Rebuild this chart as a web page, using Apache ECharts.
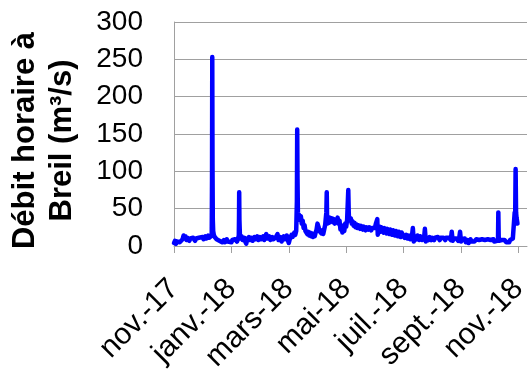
<!DOCTYPE html>
<html>
<head>
<meta charset="utf-8">
<script src="https://cdn.jsdelivr.net/npm/echarts@6/dist/echarts.min.js"></script>
<style>
html,body{margin:0;padding:0;background:#fff;}
#chart{width:528px;height:370px;}
</style>
</head>
<body>
<div id="chart"></div>
<script>
// Tick labels (every 2 months, starting nov.-17)
const tickLabels = ['nov.-17','janv.-18','mars-18','mai-18','juil.-18','sept.-18','nov.-18'];
const yTitle = 'Débit horaire à\nBreil (m³/s)';

// Hourly discharge at Breil (m3/s)
const dates = [
'2017-11-01','2017-11-02','2017-11-03','2017-11-04','2017-11-05','2017-11-06','2017-11-07','2017-11-08','2017-11-09','2017-11-10',
'2017-11-11','2017-11-12','2017-11-13','2017-11-14','2017-11-15','2017-11-17','2017-11-18','2017-11-20','2017-11-21','2017-11-23',
'2017-11-24','2017-11-26','2017-11-27','2017-11-29',
'2017-12-01','2017-12-02','2017-12-04','2017-12-05','2017-12-07','2017-12-08','2017-12-09','2017-12-10','2017-12-10 18','2017-12-11 02',
'2017-12-11 08','2017-12-11 14','2017-12-11 22','2017-12-12 08','2017-12-13','2017-12-14','2017-12-15','2017-12-16','2017-12-18','2017-12-19',
'2017-12-21','2017-12-22','2017-12-24','2017-12-25','2017-12-27','2017-12-28','2017-12-30',
'2018-01-01','2018-01-02','2018-01-04','2018-01-05','2018-01-07','2018-01-08','2018-01-09 00','2018-01-09 06','2018-01-09 10','2018-01-09 16',
'2018-01-10 04','2018-01-11','2018-01-12','2018-01-13','2018-01-15','2018-01-16','2018-01-17','2018-01-18','2018-01-20','2018-01-21',
'2018-01-23','2018-01-24','2018-01-26','2018-01-27','2018-01-29','2018-01-30',
'2018-02-01','2018-02-02','2018-02-04','2018-02-05','2018-02-07','2018-02-08','2018-02-10','2018-02-11','2018-02-13','2018-02-14',
'2018-02-16','2018-02-18','2018-02-19','2018-02-21','2018-02-22','2018-02-24','2018-02-25','2018-02-27','2018-02-28',
'2018-03-01','2018-03-02','2018-03-04','2018-03-05','2018-03-07','2018-03-08','2018-03-09','2018-03-09 18','2018-03-10 02','2018-03-10 10',
'2018-03-10 20','2018-03-11 12','2018-03-12','2018-03-13','2018-03-14','2018-03-15','2018-03-16','2018-03-17','2018-03-18','2018-03-19',
'2018-03-20','2018-03-21','2018-03-22','2018-03-23','2018-03-24','2018-03-25','2018-03-26','2018-03-27','2018-03-28','2018-03-29',
'2018-03-30','2018-03-31',
'2018-04-01','2018-04-02','2018-04-03','2018-04-05','2018-04-06','2018-04-07','2018-04-08','2018-04-09','2018-04-10 06','2018-04-10 16',
'2018-04-11 00','2018-04-11 12','2018-04-12','2018-04-13','2018-04-14','2018-04-15','2018-04-16','2018-04-17','2018-04-18','2018-04-19',
'2018-04-20','2018-04-21','2018-04-22','2018-04-23','2018-04-24','2018-04-25','2018-04-26','2018-04-27','2018-04-28','2018-04-29',
'2018-04-30',
'2018-05-01','2018-05-02','2018-05-03 06','2018-05-03 18','2018-05-04','2018-05-05','2018-05-06','2018-05-07','2018-05-08','2018-05-09',
'2018-05-10','2018-05-11','2018-05-12','2018-05-13','2018-05-14','2018-05-16','2018-05-17','2018-05-19','2018-05-20','2018-05-22',
'2018-05-23','2018-05-25','2018-05-26','2018-05-28','2018-05-29','2018-05-31',
'2018-06-01','2018-06-02','2018-06-03 12','2018-06-04','2018-06-05','2018-06-06','2018-06-07','2018-06-08','2018-06-10','2018-06-11',
'2018-06-13','2018-06-14','2018-06-16','2018-06-17','2018-06-19','2018-06-20','2018-06-22','2018-06-23','2018-06-25','2018-06-26',
'2018-06-28','2018-06-29',
'2018-07-01','2018-07-02','2018-07-04','2018-07-05','2018-07-07','2018-07-08','2018-07-10','2018-07-11','2018-07-12','2018-07-13',
'2018-07-15','2018-07-16','2018-07-18','2018-07-19','2018-07-21','2018-07-22','2018-07-23','2018-07-24','2018-07-25','2018-07-26',
'2018-07-28','2018-07-29','2018-07-31',
'2018-08-01','2018-08-03','2018-08-04','2018-08-06','2018-08-07','2018-08-09','2018-08-10','2018-08-12','2018-08-13','2018-08-15',
'2018-08-16','2018-08-18','2018-08-19','2018-08-21','2018-08-22','2018-08-23','2018-08-24','2018-08-26','2018-08-27','2018-08-29',
'2018-08-30','2018-08-31',
'2018-09-01','2018-09-02','2018-09-04','2018-09-05','2018-09-06','2018-09-08','2018-09-09','2018-09-11','2018-09-12','2018-09-14',
'2018-09-15','2018-09-17','2018-09-18','2018-09-20','2018-09-21','2018-09-23','2018-09-24','2018-09-26','2018-09-27','2018-09-29',
'2018-09-30',
'2018-10-02','2018-10-03','2018-10-05','2018-10-06','2018-10-08','2018-10-09','2018-10-10 00','2018-10-10 08','2018-10-10 18','2018-10-11',
'2018-10-13','2018-10-14','2018-10-16','2018-10-17','2018-10-19','2018-10-20','2018-10-22','2018-10-23','2018-10-25','2018-10-26',
'2018-10-27','2018-10-28','2018-10-28 12','2018-10-29','2018-10-29 12','2018-10-30','2018-10-31'
];
const flows = [
4,7,3,6,4,8,5,7,6,9,
14,10,13,8,11,7,10,8,11,7,
10,8,11,9,
12,9,13,10,14,11,13,10,14,90,
253,110,35,20,15,12,14,9,11,7,
9,5,8,5,9,6,8,
5,8,6,9,6,9,14,40,72,35,
16,10,13,8,11,6,3,9,12,8,
11,7,12,9,13,8,
12,9,13,8,16,10,13,8,12,9,
11,16,8,12,6,13,9,14,8,
4,9,15,12,18,15,20,60,156,90,
45,38,42,35,40,30,34,24,28,20,
22,16,19,14,18,13,17,12,16,13,
18,22,
30,26,20,17,21,16,22,28,45,72,
40,30,36,31,38,33,37,32,36,30,
35,32,38,30,34,22,28,18,25,20,
30,
26,35,75,45,38,34,37,30,33,27,
31,25,29,24,28,23,27,22,26,21,
25,22,25,21,24,22,
24,30,36,15,20,26,19,25,18,24,
17,23,16,22,15,21,14,20,13,19,
12,18,
16,11,15,10,14,9,13,24,6,13,
9,14,8,13,8,12,9,23,6,11,
8,12,8,
11,8,11,9,12,8,11,9,11,8,
11,9,11,8,19,7,10,8,10,7,
10,19,
6,9,7,10,5,8,4,9,6,8,
6,9,7,8,6,9,7,8,6,9,
7,
8,6,9,6,8,7,10,45,12,7,
5,8,6,8,5,7,5,8,6,10,
8,45,35,103,45,38,30
];

// Convert a date string to a fractional month index counted from 1 Nov 2017
function monthIndex(s) {
  const parts = s.split(' ');
  const ymd = parts[0].split('-').map(Number);
  const hour = parts[1] ? Number(parts[1]) : 0;
  const dim = new Date(ymd[0], ymd[1], 0).getDate();
  return (ymd[0] - 2017) * 12 + (ymd[1] - 11) + (ymd[2] - 1 + hour / 24) / dim;
}
const seriesData = dates.map((d, i) => [monthIndex(d), flows[i]]);
const tickValues = tickLabels.map((_, i) => i * 2);

const FONT = '"Liberation Sans", Arial, sans-serif';
const GRID = '#a0a0a0';

const chart = echarts.init(document.getElementById('chart'), null, {renderer: 'canvas'});
chart.setOption({
  animation: false,
  backgroundColor: '#ffffff',
  grid: {left: 174, right: 1, top: 22, bottom: 124, containLabel: false, outerBoundsMode: 'none'},
  xAxis: {
    type: 'value',
    min: 0,
    max: 12.3,
    interval: 2,
    splitLine: {show: false},
    axisLine: {show: true, lineStyle: {color: GRID, width: 1}},
    axisTick: {show: true, length: 7, customValues: tickValues, lineStyle: {color: GRID, width: 1}},
    axisLabel: {
      customValues: tickValues,
      rotate: 45,
      margin: 38,
      verticalAlign: 'middle',
      color: '#000',
      fontFamily: FONT,
      fontSize: 30,
      hideOverlap: false,
      formatter: function (v) { return tickLabels[Math.round(v / 2)] || ''; }
    }
  },
  yAxis: {
    type: 'value',
    min: 0,
    max: 300,
    interval: 50,
    name: yTitle,
    nameLocation: 'middle',
    nameRotate: 90,
    nameGap: 93,
    nameTextStyle: {
      color: '#000',
      fontFamily: FONT,
      fontSize: 31,
      fontWeight: 'bold',
      lineHeight: 37,
      padding: [0, 13, 0, 0]
    },
    axisLine: {show: true, lineStyle: {color: GRID, width: 1}},
    axisTick: {show: false},
    splitLine: {show: true, lineStyle: {color: GRID, width: 1}},
    axisLabel: {color: '#000', fontFamily: FONT, fontSize: 28, margin: 31}
  },
  series: [{
    type: 'line',
    data: seriesData,
    showSymbol: false,
    symbol: 'none',
    lineStyle: {color: '#0000ff', width: 4.5, join: 'round', cap: 'round'},
    clip: true
  }]
});
</script>
</body>
</html>
